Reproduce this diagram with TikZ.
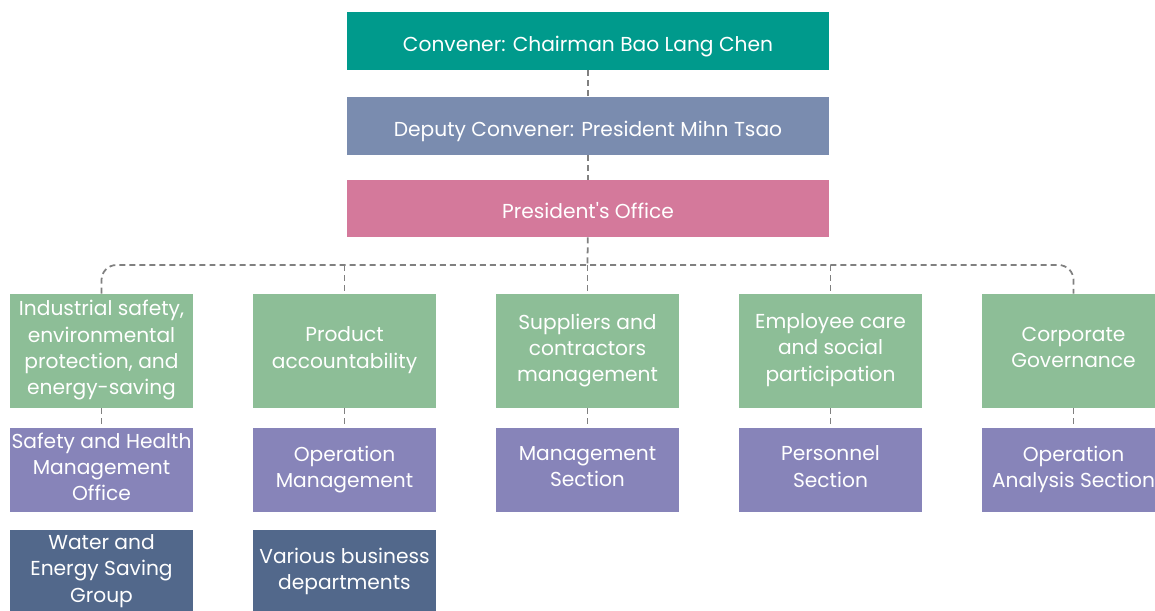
\documentclass[tikz,border=0pt]{standalone}
\usepackage{fontspec}
\setmainfont{Poppins}
\usepackage{tikz}
\usetikzlibrary{positioning, calc}
\usepackage{xcolor}
\definecolor{convenercol}{HTML}{009A8C}
\definecolor{deputycol}{HTML}{7A8CAF}
\definecolor{officecol}{HTML}{D4799B}
\definecolor{topiccol}{HTML}{8DBE97}
\definecolor{unitcol}{HTML}{8784B9}
\definecolor{groupcol}{HTML}{52688B}
\definecolor{linkcol}{HTML}{808080}

\begin{document}
\begin{tikzpicture}[x=0.02cm, y=-0.02cm,
    box/.style={text=white, inner sep=0pt, align=center, font=\fontsize{11.5}{14.9}\selectfont,
        execute at begin node={\rule{0pt}{15.8pt}}, execute at end node={\rule[-4pt]{0pt}{4pt}}},
    headbox/.style={box, minimum width=9.64cm, minimum height=1.16cm},
    topicbox/.style={box, fill=topiccol, minimum width=3.66cm, minimum height=2.28cm},
    unitbox/.style={box, fill=unitcol, minimum width=3.66cm, minimum height=1.68cm},
    groupbox/.style={box, fill=groupcol, minimum width=3.66cm, minimum height=1.68cm},
    link/.style={draw=linkcol, line width=1pt, dash pattern=on 3.4pt off 2.3pt}]

    \useasboundingbox (0,0) rectangle (1155,610);
    \clip (0,0) rectangle (1155,610);

    % Top: convener, deputy and office
    \node[headbox, fill=convenercol] (convener) at (588,41) {Convener: Chairman Bao Lang Chen};
    \node[headbox, fill=deputycol] (deputy) at (588,126) {Deputy Convener: President Mihn Tsao};
    \node[headbox, fill=officecol, minimum height=1.14cm] (office) at (588,208.5) {President\textquotesingle s Office};

    % Topic boxes
    \node[topicbox] (safety) at (101.5,351) {Industrial safety,\\ environmental\\ protection, and\\ energy-saving};
    \node[topicbox] (product) at (344.5,351) {Product\\ accountability};
    \node[topicbox] (supplier) at (587.5,351) {Suppliers and\\ contractors\\ management};
    \node[topicbox] (employee) at (830.5,351) {Employee care\\ and social\\ participation};
    \node[topicbox] (governance) at (1073.5,351) {Corporate\\ Governance};

    % Responsible units
    \node[unitbox] (healthoffice) at (101.5,470) {Safety and Health\\ Management\\ Office};
    \node[unitbox] (operation) at (344.5,470) {Operation\\ Management};
    \node[unitbox] (mgmtsection) at (587.5,470) {Management\\ Section};
    \node[unitbox] (personnel) at (830.5,470) {Personnel\\ Section};
    \node[unitbox] (analysis) at (1073.5,470) {Operation\\ Analysis Section};

    % Working groups
    \node[groupbox] (watergroup) at (101.5,572) {Water and\\ Energy Saving\\ Group};
    \node[groupbox] (business) at (344.5,572) {Various business\\ departments};

    % Dashed links
    \coordinate (bus) at (587.5,265);
    \draw[link] (convener) -- (deputy);
    \draw[link] (deputy) -- (office);
    \draw[link] (office) -- (bus);
    \draw[link, rounded corners=0.3cm] (safety.north) |- (bus) -| (governance.north);
    \draw[link] (product.north |- bus) -- (product.north);
    \draw[link] (bus) -- (supplier.north);
    \draw[link] (employee.north |- bus) -- (employee.north);
    \draw[link] (safety) -- (healthoffice);
    \draw[link] (product) -- (operation);
    \draw[link] (supplier) -- (mgmtsection);
    \draw[link] (employee) -- (personnel);
    \draw[link] (governance) -- (analysis);

\end{tikzpicture}
\end{document}
